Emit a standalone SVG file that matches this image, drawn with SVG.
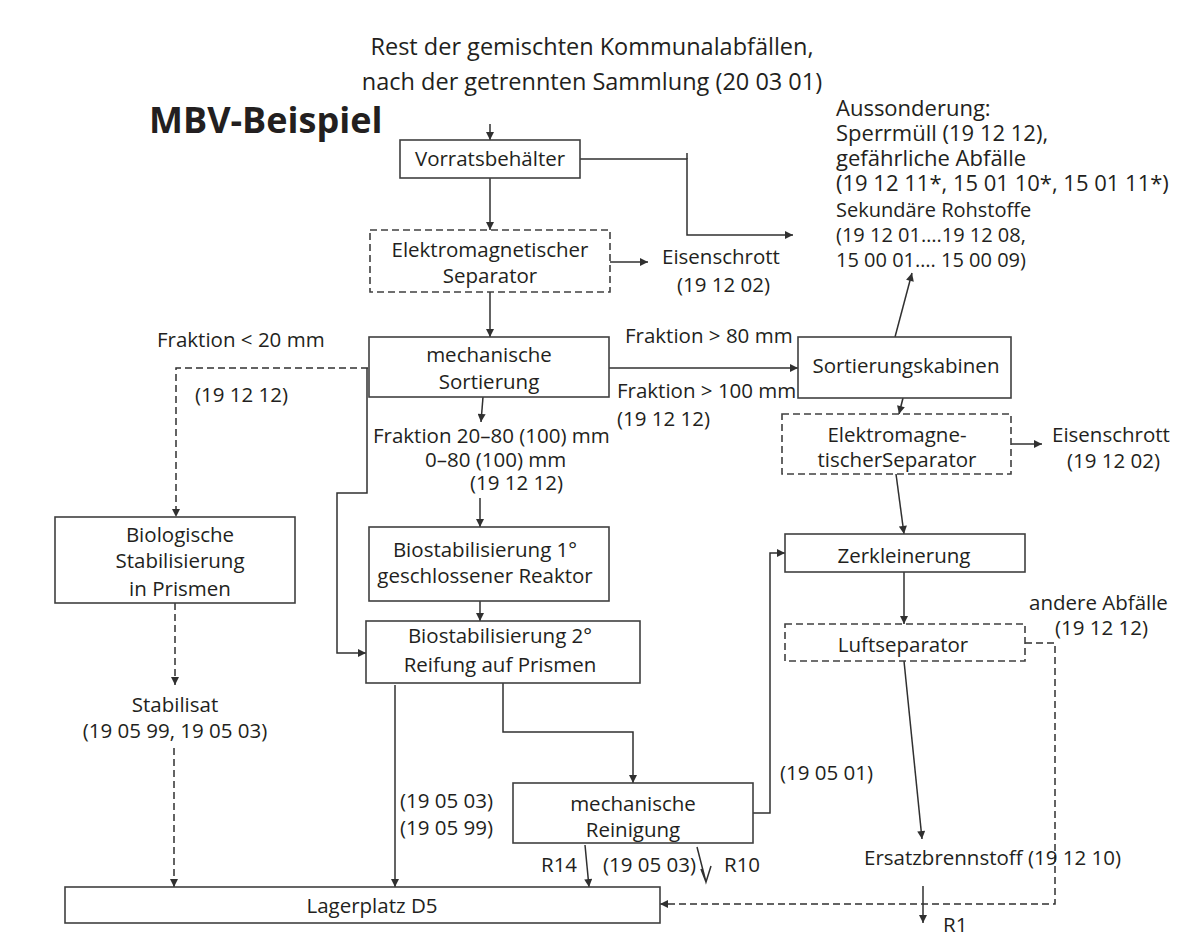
<svg xmlns="http://www.w3.org/2000/svg" width="1184" height="936" viewBox="0 0 1184 936">
<defs>
<style>
text{font-family:"Open Sans","Liberation Sans",sans-serif;font-size:20.5px;fill:#231f20}
.c{text-anchor:middle}
.title{font-size:23.5px}
.big{font-size:22px}
.sm{font-size:20px}
.bold{font-weight:bold;font-size:36px}
.box{fill:#fff;stroke:#404040;stroke-width:1.6}
.dbox{fill:#fff;stroke:#404040;stroke-width:1.6;stroke-dasharray:7 4}
.ln{fill:none;stroke:#303030;stroke-width:1.5}
.dl{fill:none;stroke:#303030;stroke-width:1.5;stroke-dasharray:7 4}
.a{marker-end:url(#ah)}
</style>
<marker id="ah" viewBox="0 0 10 10" refX="10" refY="5" markerWidth="9" markerHeight="8" markerUnits="userSpaceOnUse" orient="auto">
<path d="M0,0 L10,5 L0,10 Z" fill="#303030"/>
</marker>
</defs>
<rect width="1184" height="936" fill="#fff"/>

<g id="title">
<text class="title c" x="592" y="55">Rest der gemischten Kommunalabfällen,</text>
<text class="title c" x="592" y="90">nach der getrennten Sammlung (20 03 01)</text>
</g>
<text class="bold" x="149" y="133">MBV-Beispiel</text>

<g id="connectors">
<path class="ln a" d="M490,124 V140"/>
<path class="ln a" d="M490,178 V230"/>
<path class="ln a" d="M580,159 H687 V235 H793"/>
<path class="ln" d="M687,153 V159"/>
<path class="ln a" d="M610,262 H648"/>
<path class="ln a" d="M490,292 V337"/>
<path class="ln a" d="M609,368 H798"/>
<path class="ln a" d="M895,337 L912,273"/>
<path class="ln a" d="M903,398 L899,414"/>
<path class="ln a" d="M1011,444 H1042"/>
<path class="ln a" d="M896,474 L904,534"/>
<path class="ln a" d="M904,572 V624"/>
<path class="ln a" d="M904,661 L922,839"/>
<path class="ln a" d="M923,886 V923"/>
<path class="dl a" d="M1025,643 H1055 V904 H660"/>
<path class="dl a" d="M368,368 H176 V517"/>
<path class="ln a" d="M367,368 V493 H337 V653 H366"/>
<path class="ln a" d="M483,397 L481,422"/>
<path class="ln a" d="M480,498 V527"/>
<path class="ln a" d="M480,601 V621"/>
<path class="dl a" d="M175,603 V685"/>
<path class="dl a" d="M174,748 V887"/>
<path class="ln a" d="M395,685 V887"/>
<path class="ln a" d="M503,683 V732 H633 V783"/>
<path class="ln a" d="M753,813 H770 V553 H785"/>
<path class="ln a" d="M585,845 L589,887"/>
<path class="ln" d="M697,847 L706,882 L711,866 M706,882 L701,869"/>
</g>

<g id="vorratsbehaelter">
<rect class="box" x="400" y="140" width="180" height="38"/>
<text class="c" x="490" y="166">Vorratsbehälter</text>
</g>
<g id="em-separator-1">
<rect class="dbox" x="370" y="230" width="240" height="62"/>
<text class="c" x="490" y="257">Elektromagnetischer</text>
<text class="c" x="490" y="283">Separator</text>
</g>
<g id="eisenschrott-1">
<text x="662" y="264">Eisenschrott</text>
<text x="677" y="292">(19 12 02)</text>
</g>
<g id="aussonderung">
<text class="big" x="836" y="116">Aussonderung:</text>
<text class="big" x="836" y="141">Sperrmüll (19 12 12),</text>
<text class="big" x="836" y="166">gefährliche Abfälle</text>
<text class="big" x="836" y="191">(19 12 11*, 15 01 10*, 15 01 11*)</text>
<text class="sm" x="836" y="217">Sekundäre Rohstoffe</text>
<text class="sm" x="836" y="242">(19 12 01….19 12 08,</text>
<text class="sm" x="836" y="267">15 00 01…. 15 00 09)</text>
</g>
<g id="mech-sortierung">
<rect class="box" x="369" y="337" width="240" height="60"/>
<text class="c" x="489" y="362">mechanische</text>
<text class="c" x="489" y="389">Sortierung</text>
</g>
<g id="labels">
<text x="157" y="347">Fraktion &lt; 20 mm</text>
<text x="195" y="402">(19 12 12)</text>
<text x="625" y="343">Fraktion &gt; 80 mm</text>
<text x="617" y="398">Fraktion &gt; 100 mm</text>
<text x="617" y="426">(19 12 12)</text>
<text x="373" y="443">Fraktion 20–80 (100) mm</text>
<text x="425" y="467">0–80 (100) mm</text>
<text x="470" y="490">(19 12 12)</text>
<text x="1029" y="610">andere Abfälle</text>
<text x="1055" y="635">(19 12 12)</text>
<text x="780" y="780">(19 05 01)</text>
<text x="400" y="808">(19 05 03)</text>
<text x="400" y="835">(19 05 99)</text>
<text x="541" y="872">R14</text>
<text x="603" y="872">(19 05 03)</text>
<text x="724" y="872">R10</text>
<text x="943" y="932">R1</text>
</g>
<g id="sortierungskabinen">
<rect class="box" x="798" y="337" width="213" height="61"/>
<text class="c" x="906" y="373">Sortierungskabinen</text>
</g>
<g id="em-separator-2">
<rect class="dbox" x="782" y="414" width="229" height="60"/>
<text class="c" x="897" y="442">Elektromagne-</text>
<text class="c" x="897" y="467">tischerSeparator</text>
</g>
<g id="eisenschrott-2">
<text x="1052" y="442">Eisenschrott</text>
<text x="1067" y="468">(19 12 02)</text>
</g>
<g id="biologische">
<rect class="box" x="55" y="517" width="240" height="86"/>
<text class="c" x="180" y="542">Biologische</text>
<text class="c" x="180" y="568">Stabilisierung</text>
<text class="c" x="180" y="596">in Prismen</text>
</g>
<g id="biostab-1">
<rect class="box" x="369" y="527" width="240" height="74"/>
<text class="c" x="485" y="557">Biostabilisierung 1°</text>
<text class="c" x="485" y="583">geschlossener Reaktor</text>
</g>
<g id="biostab-2">
<rect class="box" x="366" y="621" width="274" height="62"/>
<text class="c" x="500" y="643">Biostabilisierung 2°</text>
<text class="c" x="500" y="672">Reifung auf Prismen</text>
</g>
<g id="stabilisat">
<text class="c" x="175" y="712">Stabilisat</text>
<text class="c" x="175" y="738">(19 05 99, 19 05 03)</text>
</g>
<g id="zerkleinerung">
<rect class="box" x="785" y="534" width="240" height="38"/>
<text class="c" x="904" y="563">Zerkleinerung</text>
</g>
<g id="luftseparator">
<rect class="dbox" x="785" y="624" width="240" height="37"/>
<text class="c" x="903" y="652">Luftseparator</text>
</g>
<g id="mech-reinigung">
<rect class="box" x="513" y="783" width="240" height="60"/>
<text class="c" x="633" y="811">mechanische</text>
<text class="c" x="633" y="837">Reinigung</text>
</g>
<g id="ersatzbrennstoff">
<text x="864" y="865">Ersatzbrennstoff (19 12 10)</text>
</g>
<g id="lagerplatz">
<rect class="box" x="65" y="887" width="595" height="36"/>
<text class="c" x="372" y="913">Lagerplatz D5</text>
</g>
</svg>
